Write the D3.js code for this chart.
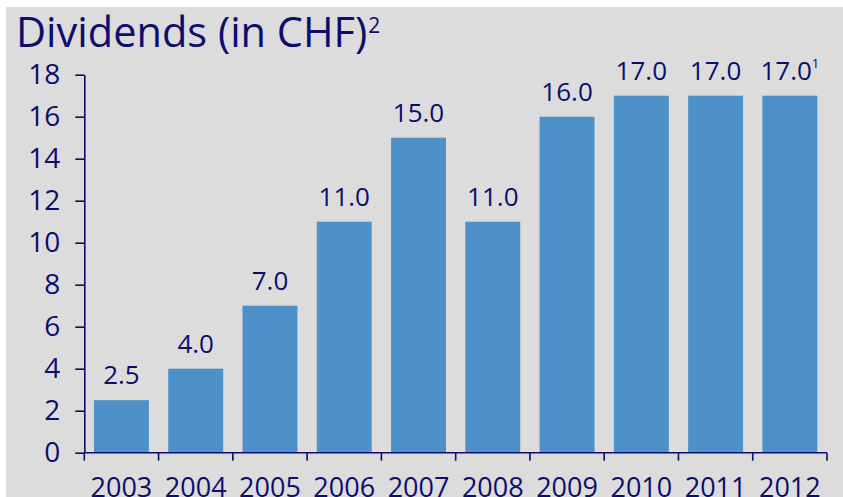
<!DOCTYPE html>
<html>
<head>
<meta charset="utf-8">
<script src="https://cdn.jsdelivr.net/npm/d3@7"></script>
<style>
  body { margin: 0; background: #fff; }
  svg { display: block; font-family: "Open Sans", sans-serif; }
</style>
</head>
<body>
<div id="chart"></div>
<script>
// data
var years = ["2003", "2004", "2005", "2006", "2007", "2008", "2009", "2010", "2011", "2012"];
var dividends = [2.5, 4.0, 7.0, 11.0, 15.0, 11.0, 16.0, 17.0, 17.0, 17.0];
var valueNotes = ["", "", "", "", "", "", "", "", "", "1"];
var yTicks = [0, 2, 4, 6, 8, 10, 12, 14, 16, 18];

var W = 843, H = 497;
var margin = {top: 74.7, right: 16, bottom: 44.3, left: 84.3},
    width = W - margin.left - margin.right,
    height = H - margin.top - margin.bottom;

var navy = "#0d0d6b", barColor = "#4e90c8";

var svg = d3.select("#chart").append("svg")
    .attr("width", W)
    .attr("height", H);

// grey panel with white strip on top and left
svg.append("rect")
    .attr("x", 6).attr("y", 7)
    .attr("width", W - 6).attr("height", H - 7)
    .attr("fill", "#dcdcdc");

//Title
var title = svg.append("text")
    .attr("x", 16)
    .attr("y", 47)
    .attr("fill", navy)
    .style("font-size", "41.5px")
    .text("Dividends (in CHF)");
title.append("tspan")
    .attr("dx", 1)
    .attr("dy", -14)
    .style("font-size", "21px")
    .text("2");

var x = d3.scaleBand().domain(years).range([0, width]).paddingInner(0.26).paddingOuter(0.13);
var y = d3.scaleLinear().domain([0, 18]).range([height, 0]);

var g = svg.append("g")
    .attr("transform", "translate(" + margin.left + "," + margin.top + ")");

//Bars
g.selectAll(".bar")
    .data(dividends)
    .enter().append("rect")
    .attr("class", "bar")
    .attr("x", function(d, i) { return x(years[i]); })
    .attr("y", function(d) { return y(d); })
    .attr("width", x.bandwidth())
    .attr("height", function(d) { return height - y(d); })
    .attr("fill", barColor);

//Value labels
var labels = g.selectAll(".val")
    .data(dividends)
    .enter().append("text")
    .attr("class", "val")
    .attr("x", function(d, i) { return x(years[i]) + x.bandwidth() / 2; })
    .attr("y", function(d) { return y(d) - 16; })
    .attr("text-anchor", "middle")
    .attr("fill", navy)
    .style("font-size", "26px")
    .text(function(d) { return d.toFixed(1); });

labels.each(function(d, i) {
    if (valueNotes[i] != "") {
        d3.select(this).append("tspan")
            .attr("dy", -12)
            .style("font-size", "13px")
            .text(valueNotes[i]);
    }
});

//Y axis
var yAxis = d3.axisLeft(y).tickValues(yTicks).tickSize(9).tickPadding(15).tickSizeOuter(0);
var yg = g.append("g").call(yAxis);
yg.select(".domain").attr("stroke", navy).attr("stroke-width", 1.6);
yg.selectAll(".tick line").attr("stroke", navy).attr("stroke-width", 1.6);
yg.selectAll(".tick text")
    .attr("fill", navy)
    .style("font-size", "28px")
    .style("font-family", "'Open Sans', sans-serif");

//X axis with ticks on band edges
var xg = g.append("g").attr("transform", "translate(0," + height + ")");
xg.append("line")
    .attr("x1", 0).attr("x2", width)
    .attr("stroke", navy).attr("stroke-width", 1.6);
var edges = years.map(function(d) { return x(d) - x.step() * x.paddingInner() / 2; }).concat([width]);
xg.selectAll(".edge")
    .data(edges)
    .enter().append("line")
    .attr("class", "edge")
    .attr("x1", function(d) { return d; }).attr("x2", function(d) { return d; })
    .attr("y1", 0).attr("y2", 8)
    .attr("stroke", navy).attr("stroke-width", 1.6);
xg.selectAll(".year")
    .data(years)
    .enter().append("text")
    .attr("class", "year")
    .attr("x", function(d) { return x(d) + x.bandwidth() / 2; })
    .attr("y", 44)
    .attr("text-anchor", "middle")
    .attr("fill", navy)
    .style("font-size", "27px")
    .text(function(d) { return d; });
</script>
</body>
</html>
